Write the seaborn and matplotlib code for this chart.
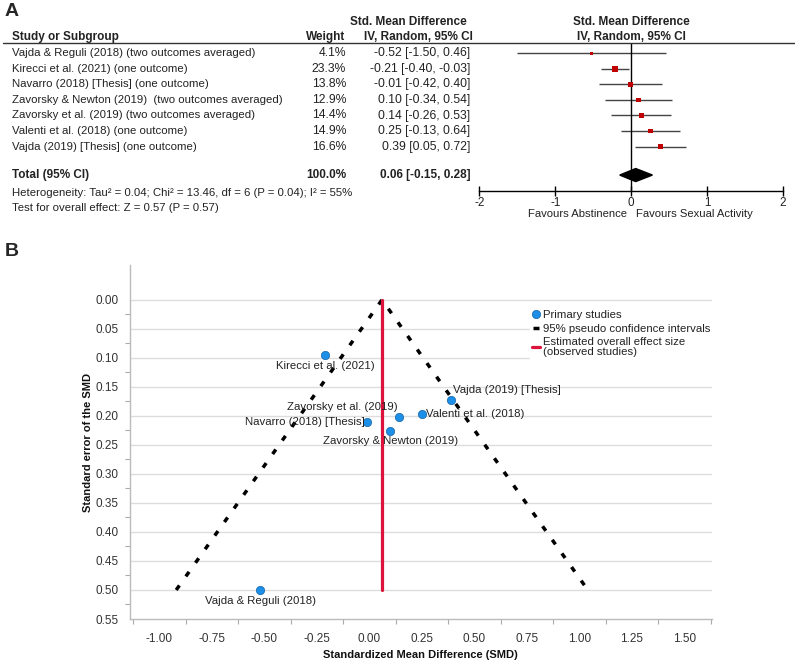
import numpy as np
import pandas as pd
import matplotlib
matplotlib.use("Agg")
import matplotlib.pyplot as plt
import matplotlib.transforms as mtransforms
from matplotlib.lines import Line2D
import seaborn as sns

# ---- data: forest plot (panel A)
studies = [
    "Vajda & Reguli (2018) (two outcomes averaged)",
    "Kirecci et al. (2021) (one outcome)",
    "Navarro (2018) [Thesis] (one outcome)",
    "Zavorsky & Newton (2019)  (two outcomes averaged)",
    "Zavorsky et al. (2019) (two outcomes averaged)",
    "Valenti et al. (2018) (one outcome)",
    "Vajda (2019) [Thesis] (one outcome)",
]
weights = [4.1, 23.3, 13.8, 12.9, 14.4, 14.9, 16.6]
smd = [-0.52, -0.21, -0.01, 0.10, 0.14, 0.25, 0.39]
ci_lo = [-1.50, -0.40, -0.42, -0.34, -0.26, -0.13, 0.05]
ci_hi = [0.46, -0.03, 0.40, 0.54, 0.53, 0.64, 0.72]
total_est, total_lo, total_hi = 0.06, -0.15, 0.28
forest_ticks = [-2, -1, 0, 1, 2]

# ---- data: funnel plot (panel B)
funnel_names = ["Vajda & Reguli (2018)", "Kirecci et al. (2021)", "Navarro (2018) [Thesis]",
                "Zavorsky & Newton (2019)", "Zavorsky et al. (2019)", "Valenti et al. (2018)",
                "Vajda (2019) [Thesis]"]
funnel_se = [0.50, 0.095, 0.21, 0.226, 0.202, 0.196, 0.172]
se_max = 0.50

sns.set_theme(style="white")
plt.rcParams['font.family'] = ['Liberation Sans', 'DejaVu Sans']

W, H = 795, 661
fig = plt.figure(figsize=(W / 100, H / 100), dpi=100)

def fx(px):
    return px / W

def fy(py):
    return 1 - py / H

# ================= Panel A =================
fs_a = 8.2      # plain text
fs_num = 8.7    # numeric columns (wider numerals in the original)
fs_bold = 8.5
top_px, bot_px = 43.3, 190.7
row0_px, row_step = 53.3, 15.55
ax_f = fig.add_axes([fx(479.3), fy(bot_px), fx(783 - 479.3), (bot_px - top_px) / H])
ax_f.set_xlim(-2, 2)
ax_f.set_ylim((bot_px - row0_px) / row_step, (top_px - row0_px) / row_step)
for s in ["top", "left", "right"]:
    ax_f.spines[s].set_visible(False)
ax_f.spines["bottom"].set_color("black")
ax_f.spines["bottom"].set_linewidth(1)
ax_f.set_yticks([])
ax_f.set_xticks(forest_ticks)
ax_f.set_xticklabels([str(t) for t in forest_ticks])
ax_f.tick_params(axis="x", direction="inout", length=7, width=1, color="black",
                 labelsize=8.4, pad=1, bottom=True, labelcolor="#222222")
ax_f.patch.set_alpha(0)

rows = np.arange(len(studies))
ax_f.hlines(rows, ci_lo, ci_hi, color="#444444", lw=1)
df_forest = pd.DataFrame({"smd": smd, "row": rows, "weight": weights})
sns.scatterplot(data=df_forest, x="smd", y="row", size="weight", sizes=(0, 19),
                size_norm=(0, max(weights)), marker="s", color="#c00000",
                edgecolor="none", legend=False, ax=ax_f, zorder=3)
ax_f.set_xlabel("")
ax_f.set_ylabel("")
ax_f.axvline(0, color="black", lw=1, zorder=2)

total_row = 7.83
dh = 0.42
ax_f.fill([total_lo, total_est, total_hi, total_est],
          [total_row, total_row - dh, total_row, total_row + dh], color="black", zorder=4)

ax_f.text(-0.05, -0.155, "Favours Abstinence", transform=ax_f.get_xaxis_transform(),
          ha="right", va="center", fontsize=8.1, color="#222222")
ax_f.text(0.07, -0.155, "Favours Sexual Activity", transform=ax_f.get_xaxis_transform(),
          ha="left", va="center", fontsize=8.1, color="#222222")

# table text: x in figure fraction, y in forest rows
tr = mtransforms.blended_transform_factory(fig.transFigure, ax_f.transData)
base = dict(color="#222222", va="center", transform=tr)
hdr_r1 = (21.7 - row0_px) / row_step
hdr_r2 = (36.7 - row0_px) / row_step
bold = dict(fontsize=fs_bold, fontweight="bold", **base)
ax_f.text(fx(12), hdr_r2, "Study or Subgroup", ha="left", **bold)
ax_f.text(fx(345), hdr_r2, "Weight", ha="right", **bold)
ax_f.text(fx(408), hdr_r1, "Std. Mean Difference", ha="center", **bold)
ax_f.text(fx(418), hdr_r2, "IV, Random, 95% CI", ha="center", **bold)
ax_f.text(fx(631), hdr_r1, "Std. Mean Difference", ha="center", **bold)
ax_f.text(fx(631), hdr_r2, "IV, Random, 95% CI", ha="center", **bold)

for i, name in enumerate(studies):
    ax_f.text(fx(12), i, name, ha="left", fontsize=fs_a, **base)
    ax_f.text(fx(346), i, f"{weights[i]:.1f}%", ha="right", fontsize=fs_num, **base)
    ax_f.text(fx(470), i, f"{smd[i]:.2f} [{ci_lo[i]:.2f}, {ci_hi[i]:.2f}]", ha="right",
              fontsize=fs_num, **base)

ax_f.text(fx(12), total_row, "Total (95% CI)", ha="left", **bold)
ax_f.text(fx(346), total_row, f"{sum(weights):.1f}%", ha="right", **bold)
ax_f.text(fx(470), total_row, f"{total_est:.2f} [{total_lo:.2f}, {total_hi:.2f}]",
          ha="right", **bold)
ax_f.text(fx(12), (192.7 - row0_px) / row_step,
          "Heterogeneity: Tau\u00b2 = 0.04; Chi\u00b2 = 13.46, df = 6 (P = 0.04); I\u00b2 = 55%",
          ha="left", fontsize=fs_a, **base)
ax_f.text(fx(12), (208 - row0_px) / row_step,
          "Test for overall effect: Z = 0.57 (P = 0.57)", ha="left", fontsize=fs_a, **base)

# header underline across the panel
fig.add_artist(Line2D([fx(3), fx(795)], [fy(top_px), fy(top_px)], color="#333333", lw=1))

fig.text(fx(5), fy(11), "A", fontsize=14, fontweight="bold", va="center", ha="left")
fig.text(fx(5), fy(252), "B", fontsize=14, fontweight="bold", va="center", ha="left")

# ================= Panel B =================
ax_b = fig.add_axes([fx(130), fy(619), fx(711.7 - 130), (619 - 265) / H])
ax_b.set_xlim(-1.14, 1.63)
ax_b.set_ylim(0.55, -0.06)

for y in np.arange(0, 0.51, 0.05):
    ax_b.axhline(y, color="#dddddd", lw=1, zorder=0)

df_funnel = pd.DataFrame({"smd": smd, "se": funnel_se, "name": funnel_names})
ci_x = [total_est - 1.96 * se_max, total_est, total_est + 1.96 * se_max]
ci_y = [se_max, 0, se_max]
ax_b.plot(ci_x, ci_y, color="black", lw=2.5, linestyle=(0, (1.6, 3.2)), zorder=2)
ax_b.plot([total_est, total_est], [0, se_max], color="#dc143c", lw=2.3, zorder=3)
sns.scatterplot(data=df_funnel, x="smd", y="se", s=36, color="#1e8fe6",
                edgecolor="#1565a8", linewidth=0.5, ax=ax_b, zorder=4)

# point labels: (dx, dy in px, ha, va)
offsets = {
    "Vajda & Reguli (2018)": (0, 11, "center", "center"),
    "Kirecci et al. (2021)": (0, 11, "center", "center"),
    "Navarro (2018) [Thesis]": (-3, 0, "right", "center"),
    "Zavorsky & Newton (2019)": (0, 10, "center", "center"),
    "Zavorsky et al. (2019)": (-1, -10, "right", "center"),
    "Valenti et al. (2018)": (4, 0, "left", "center"),
    "Vajda (2019) [Thesis]": (2, -10, "left", "center"),
}
for _, r in df_funnel.iterrows():
    dx, dy, ha, va = offsets[r["name"]]
    ax_b.annotate(r["name"], (r["smd"], r["se"]), xytext=(dx * 0.72, -dy * 0.72),
                  textcoords="offset points", ha=ha, va=va, fontsize=8.2, color="#222222",
                  zorder=5)

ax_b.set_xticks(np.arange(-1.0, 1.51, 0.25))
ax_b.set_xticklabels([f"{v:.2f}" for v in np.arange(-1.0, 1.51, 0.25)])
ax_b.set_xticks(np.arange(-1.125, 1.63, 0.25), minor=True)
ax_b.set_yticks(np.arange(0, 0.551, 0.05))
ax_b.set_yticklabels([f"{v:.2f}" for v in np.arange(0, 0.551, 0.05)])
ax_b.set_yticks(np.arange(0.025, 0.55, 0.05), minor=True)
ax_b.tick_params(which="major", length=0, labelsize=8.5, labelcolor="#333333", pad=8)
ax_b.tick_params(which="minor", length=3.5, width=0.8, color="#aaaaaa",
                 bottom=True, left=True)
ax_b.tick_params(axis="x", which="major", pad=10)
for s in ["top", "right"]:
    ax_b.spines[s].set_visible(False)
for s in ["left", "bottom"]:
    ax_b.spines[s].set_color("#bbbbbb")
    ax_b.spines[s].set_linewidth(1)
ax_b.set_xlabel("Standardized Mean Difference (SMD)", fontsize=8, fontweight="bold",
                color="#111111", labelpad=4)
ax_b.set_ylabel("Standard error of the SMD", fontsize=8, fontweight="bold",
                color="#111111", labelpad=2)

handles = [
    Line2D([], [], linestyle="none", marker="o", markersize=6, markerfacecolor="#1e8fe6",
           markeredgecolor="#1565a8", markeredgewidth=0.5),
    Line2D([], [], linestyle="none", marker="_", markersize=5, markeredgewidth=2.5,
           color="black"),
    Line2D([], [], color="#dc143c", lw=2.3),
]
labels = ["Primary studies", "95% pseudo confidence intervals",
          "Estimated overall effect size\n(observed studies)"]
leg = ax_b.legend(handles, labels, loc="upper left", bbox_to_anchor=(0.677, 0.895),
                  fontsize=8.2, frameon=True, framealpha=1, edgecolor="white",
                  handlelength=0.7, handletextpad=0.3, labelspacing=0.3,
                  borderpad=0.2, fancybox=False)
for t in leg.get_texts():
    t.set_color("#222222")
    t.set_linespacing(0.95)

fig.savefig("out.png", dpi=100)
